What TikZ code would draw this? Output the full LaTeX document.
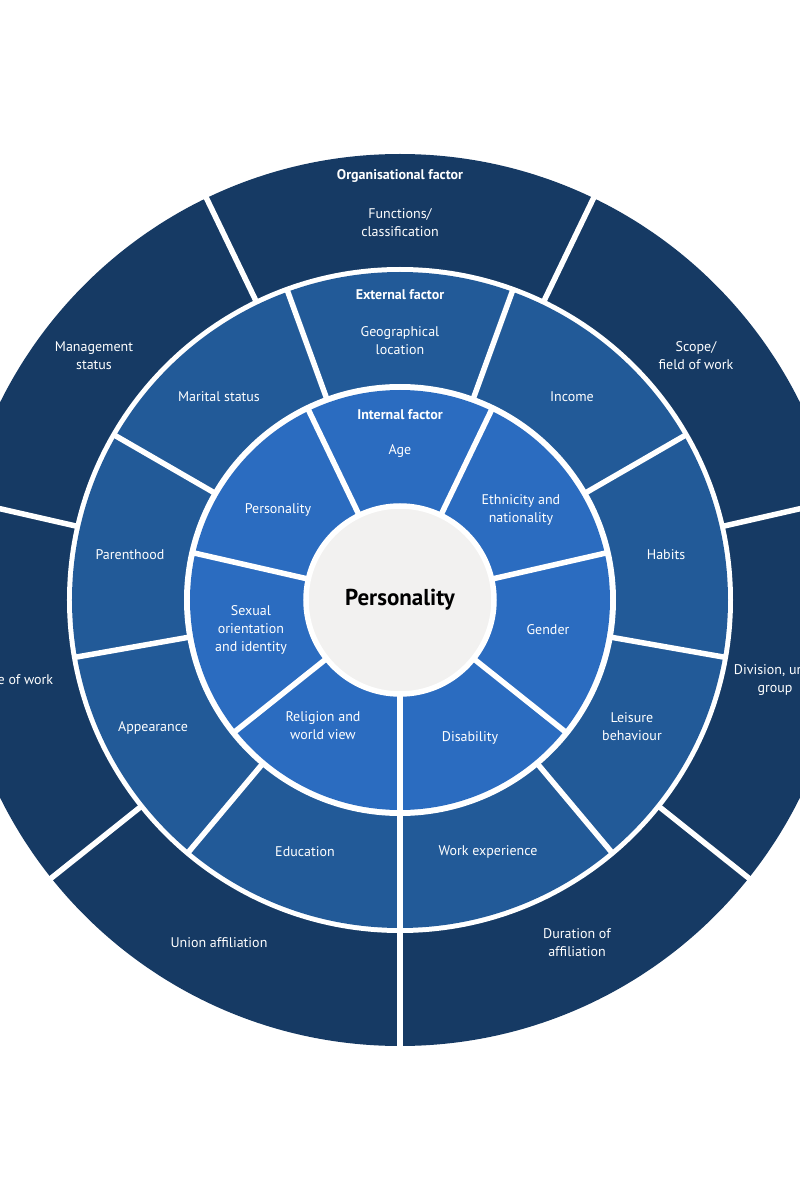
\documentclass[tikz,border=0pt]{standalone}
\usepackage{fontspec}
\setmainfont{PT Sans}
\usetikzlibrary{positioning}
\definecolor{orgblue}{HTML}{163A64}
\definecolor{extblue}{HTML}{225A98}
\definecolor{intblue}{HTML}{2B6CC0}
\definecolor{coregray}{HTML}{F2F1F0}
\tikzset{
  lbl/.style={text=white, align=center, inner sep=1pt,
              font=\fontsize{14}{18}\selectfont},
  head/.style={lbl, font=\fontsize{14}{18}\selectfont\bfseries},
  sep/.style={white, line width=5.5pt},
}

\begin{document}
\begin{tikzpicture}[x=1pt, y=1pt, node distance=12pt]
  \useasboundingbox (-400,-600) rectangle (400,600);
  \clip (-400,-600) rectangle (400,600);
  % rings, outside in
  \fill[orgblue] (0,0) circle (446);
  \fill[white] (0,0) circle (333);
  \fill[extblue] (0,0) circle (328);
  \fill[white] (0,0) circle (216);
  \fill[intblue] (0,0) circle (210);
  % separators
  \foreach \k in {0,...,6}
    \draw[sep] ({64.2857-\k*51.4286}:330) -- ({64.2857-\k*51.4286}:460);
  \foreach \k in {0,...,8}
    \draw[sep] ({70-\k*40}:212) -- ({70-\k*40}:331);
  \foreach \k in {0,...,6}
    \draw[sep] ({64.2857-\k*51.4286}:90) -- ({64.2857-\k*51.4286}:213);
  \node[circle, fill=coregray, draw=white, line width=5.5pt, minimum size=188pt,
        font=\fontsize{23}{28}\selectfont\bfseries] (core) at (0,0) {Personality};

  % organisational factor
  \node[head] (orghead) at (0,424) {Organisational factor};
  \node[lbl, below=24pt of orghead] (func) {Functions/\\classification};
  \node[lbl] (scope) at (296,244) {Scope/\\field of work};
  \node[lbl] (div) at (375,-80) {Division, unit,\\group};
  \node[lbl] (dur) at (177,-343) {Duration of\\affiliation};
  \node[lbl] (union) at (-181,-343) {Union affiliation};
  \node[lbl] (place) at (-387,-80) {Place of work};
  \node[lbl] (mgmt) at (-306,244) {Management\\status};

  % external factor
  \node[head] (exthead) at (0,305) {External factor};
  \node[lbl, below=24pt of exthead] (geo) {Geographical\\location};
  \node[lbl] (income) at (172,203) {Income};
  \node[lbl] (habits) at (266,45) {Habits};
  \node[lbl] (leisure) at (232,-127) {Leisure\\behaviour};
  \node[lbl] (work) at (88,-252) {Work experience};
  \node[lbl] (edu) at (-95,-252) {Education};
  \node[lbl] (appear) at (-247,-128) {Appearance};
  \node[lbl] (parent) at (-270,45) {Parenthood};
  \node[lbl] (marital) at (-181,203) {Marital status};

  % internal factor
  \node[head] (inthead) at (0,185) {Internal factor};
  \node[lbl] (age) at (0,149) {Age};
  \node[lbl] (ethnic) at (121,90) {Ethnicity and\\nationality};
  \node[lbl] (gender) at (148,-30) {Gender};
  \node[lbl] (disab) at (70,-138) {Disability};
  \node[lbl] (relig) at (-77,-126) {Religion and\\world view};
  \node[lbl] (sexual) at (-149,-30) {Sexual\\orientation\\and identity};
  \node[lbl] (person) at (-122,90) {Personality};
\end{tikzpicture}
\end{document}
